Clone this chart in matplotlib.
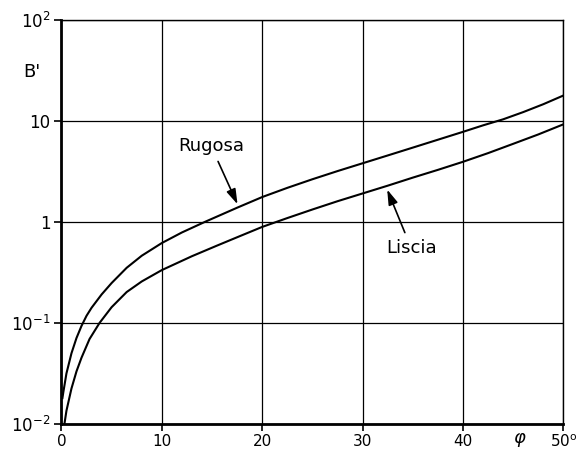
import matplotlib
matplotlib.use('Agg')
from matplotlib import pyplot as plt
from matplotlib.ticker import FixedLocator, NullLocator, FixedFormatter

plt.rcParams['font.family'] = ['DejaVu Sans']
plt.rcParams['mathtext.fontset'] = 'dejavusans'

# values (phi in degrees, B' on log scale)
phi_rugosa = [0.1, 0.2, 0.5, 1, 1.5, 2, 2.5, 3, 4, 5, 6.5, 8, 10, 12, 14.3, 17.5,
              20, 22.5, 25, 27.5, 30, 32.5, 35, 37.5, 40, 42, 44, 46, 48, 50]
b_rugosa = [0.018, 0.0209, 0.0316, 0.050, 0.0708, 0.0933, 0.1175, 0.141, 0.191, 0.248,
            0.351, 0.462, 0.617, 0.785, 1.0, 1.38, 1.76, 2.17, 2.64, 3.18, 3.80, 4.54,
            5.43, 6.50, 7.78, 9.02, 10.35, 12.2, 14.6, 17.8]

phi_liscia = [0.3, 0.5, 1, 1.5, 2, 2.8, 3.8, 5, 6.5, 8, 10, 13, 15.5, 17.8, 20, 22.5,
              25, 27.5, 30, 32.5, 35, 37.5, 40, 42.5, 45, 47.5, 50]
b_liscia = [0.01, 0.0135, 0.0224, 0.0331, 0.0452, 0.0692, 0.1, 0.143, 0.202, 0.257,
            0.333, 0.457, 0.582, 0.724, 0.891, 1.09, 1.325, 1.60, 1.91, 2.28, 2.74, 3.27,
            3.93, 4.79, 5.92, 7.33, 9.23]

x_ticks = [0, 10, 20, 30, 40, 50]
x_labels = ['0', '10', '20', '30', '40', r'50$^{\mathrm{o}}$']
y_ticks = [0.01, 0.1, 1, 10, 100]
y_labels = [r'$10^{-2}$', r'$10^{-1}$', '1', '10', r'$10^{2}$']

fig = plt.figure(figsize=(5.85, 4.5), dpi=100)
ax = fig.add_axes([0.105, 0.058, 0.858, 0.898])

ax.set_yscale('log')
ax.set_xlim(0, 50)
ax.set_ylim(0.01, 100)

ax.plot(phi_rugosa, b_rugosa, color='black', lw=1.5, solid_joinstyle='round')
ax.plot(phi_liscia, b_liscia, color='black', lw=1.5, solid_joinstyle='round')

# grid and ticks
ax.xaxis.set_major_locator(FixedLocator(x_ticks))
ax.xaxis.set_major_formatter(FixedFormatter(x_labels))
ax.yaxis.set_major_locator(FixedLocator(y_ticks))
ax.yaxis.set_major_formatter(FixedFormatter(y_labels))
ax.yaxis.set_minor_locator(NullLocator())
ax.grid(True, color='black', lw=0.9)
ax.tick_params(direction='out', length=5, width=1.2, labelsize=12, pad=3)
ax.tick_params(axis='x', labelsize=11, pad=2)
for s in ax.spines.values():
    s.set_linewidth(1.0)
ax.spines['left'].set_linewidth(2.0)
ax.spines['bottom'].set_linewidth(2.0)

# labels
fig.text(32 / 585, 1 - 72 / 450, "B'", fontsize=13, ha='center', va='center')
fig.text(520 / 585, 1 - 440 / 450, r'$\varphi$', fontsize=13, ha='center', va='center')

arrow = dict(arrowstyle='-|>,head_length=0.7,head_width=0.22', color='black', lw=1.2,
             shrinkA=3, shrinkB=1)
ax.annotate('Rugosa', xy=(17.6, 1.45), xytext=(14.9, 5.65), fontsize=13,
            ha='center', va='center', arrowprops=arrow)
ax.annotate('Liscia', xy=(32.4, 2.15), xytext=(34.85, 0.548), fontsize=13,
            ha='center', va='center', arrowprops=arrow)

fig.savefig('out.png', dpi=100)
